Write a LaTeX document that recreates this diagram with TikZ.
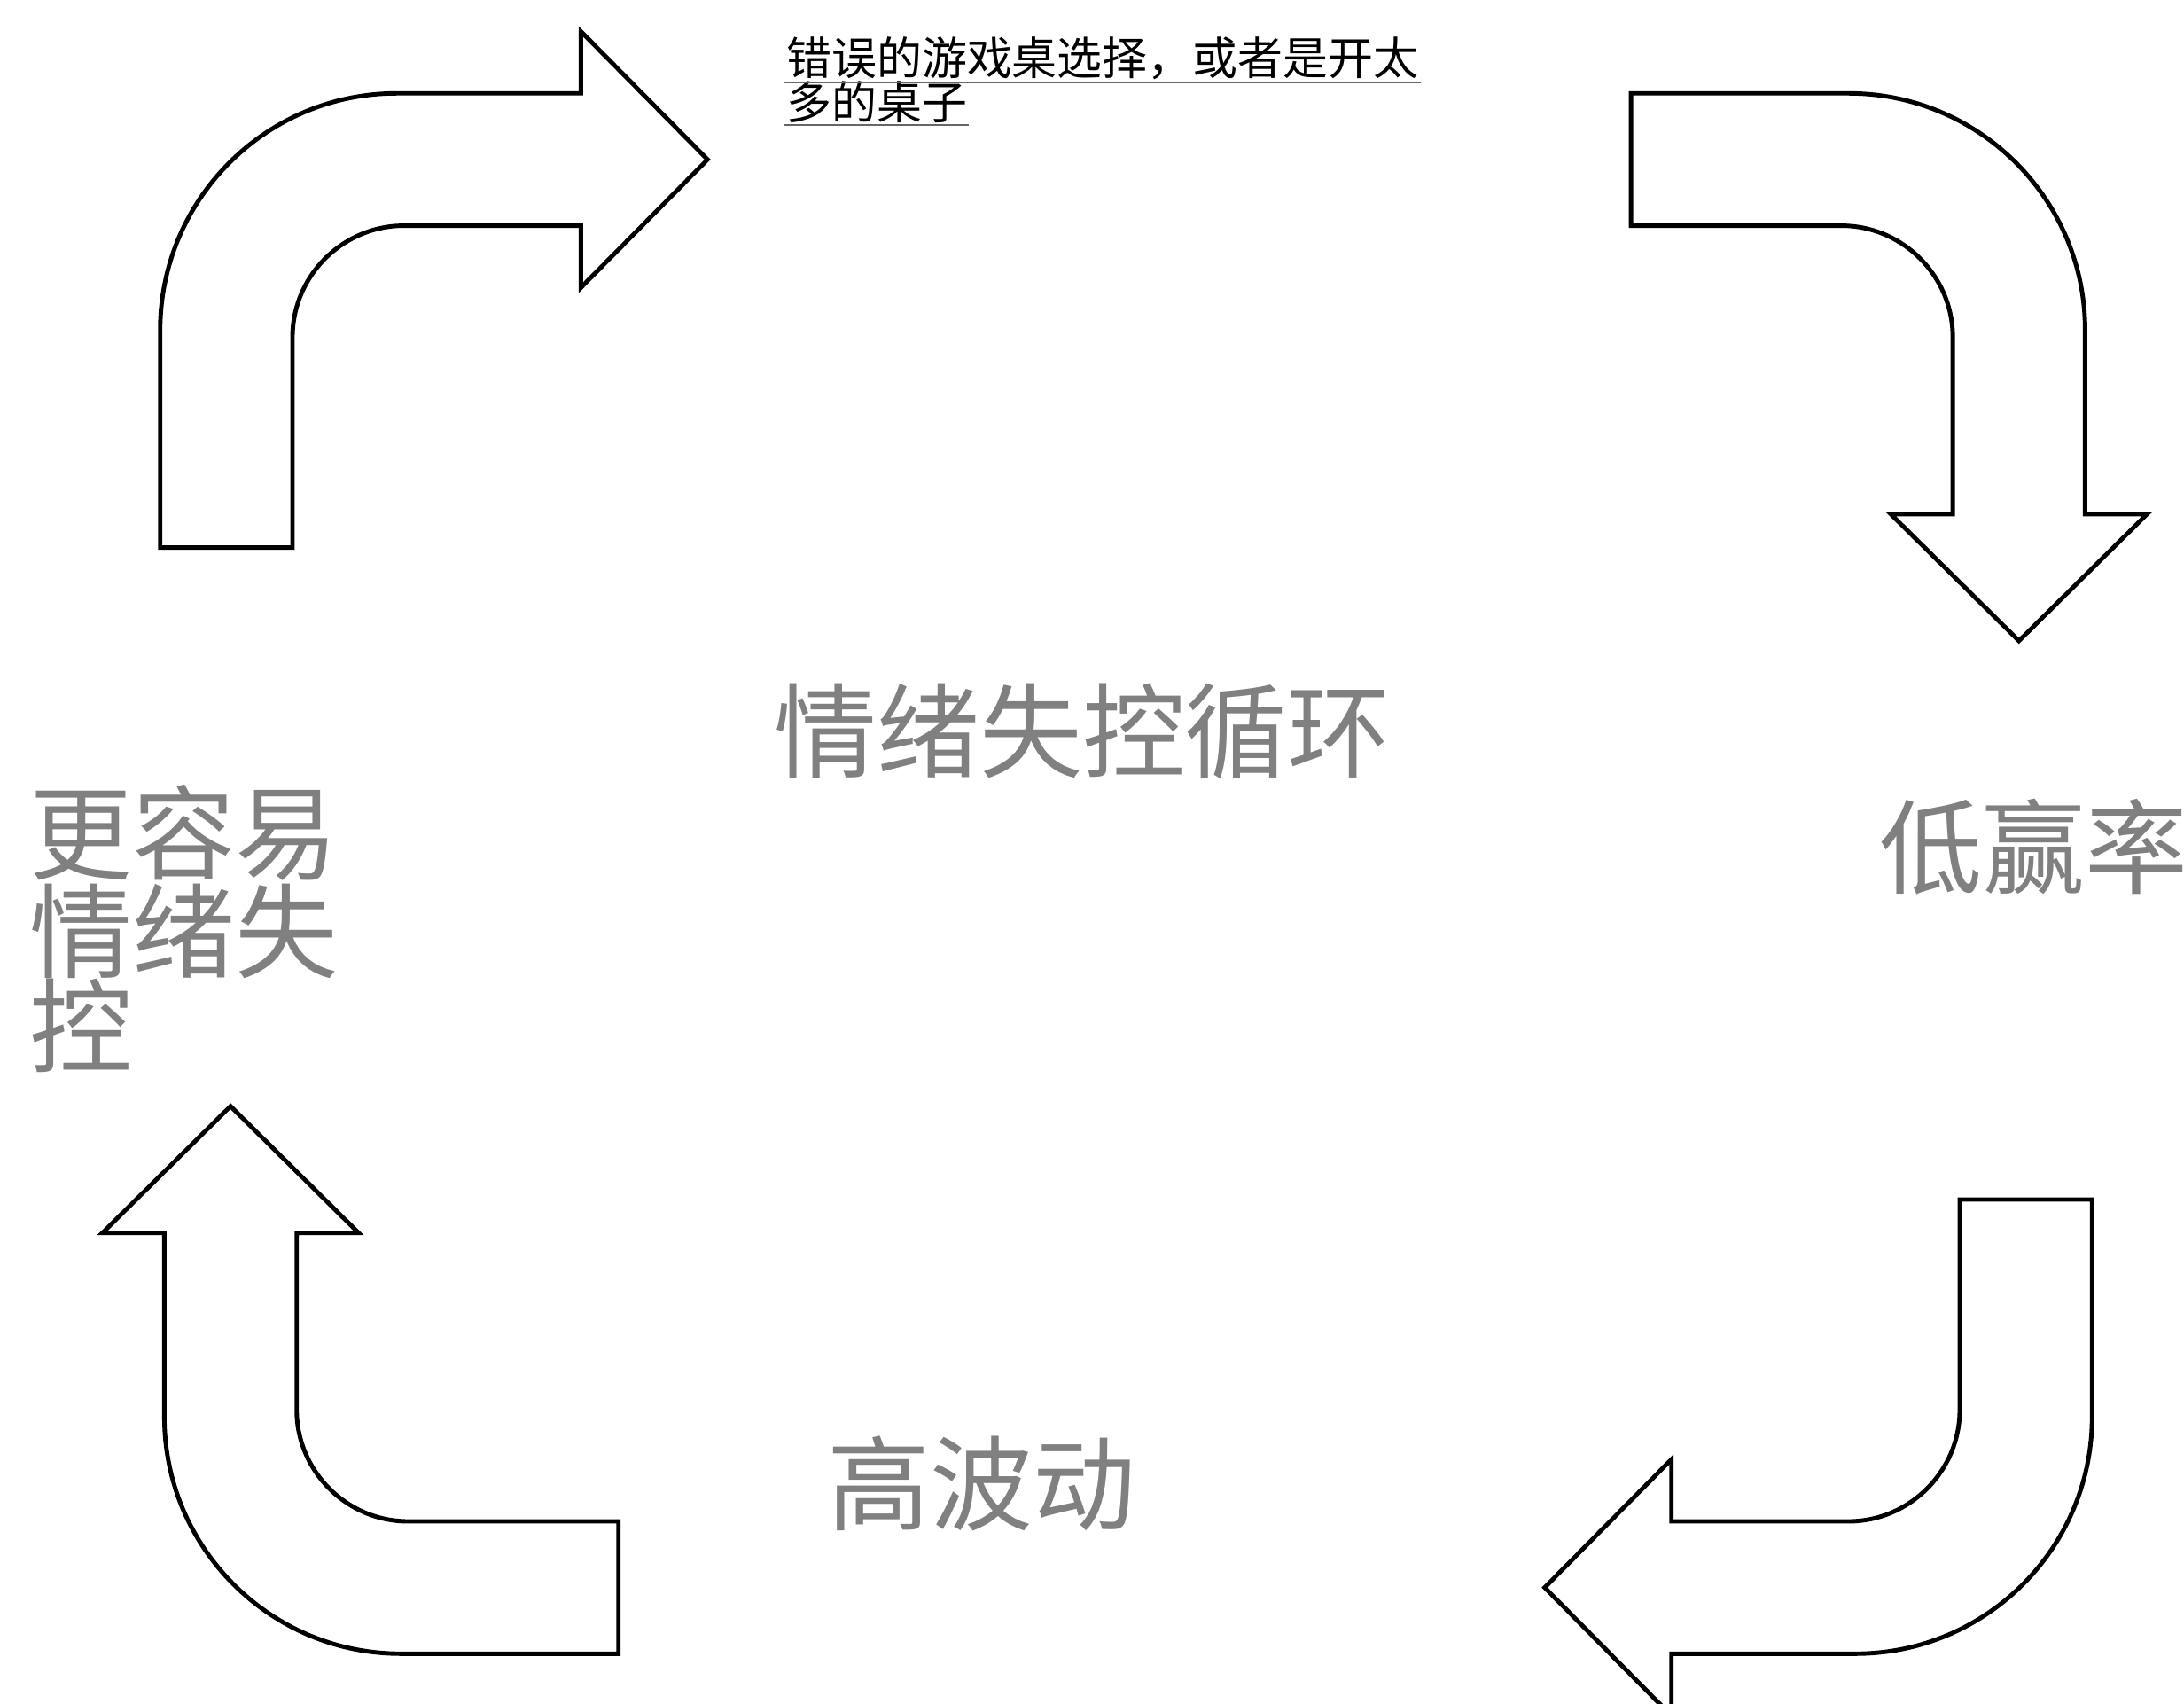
\documentclass[tikz,border=0pt]{standalone}
\usepackage{fontspec}
\setmainfont{Noto Sans CJK SC}
\usetikzlibrary{positioning}

\begin{document}
\begin{tikzpicture}[x=0.015714cm, y=-0.015714cm, line width=1.4pt,
    bigtext/.style={inner sep=0pt, text=black!50, font=\fontsize{33}{30.5}\selectfont},
    smalltext/.style={inner sep=0pt, font=\fontsize{14.5}{14}\selectfont},
    bent arrow/.pic={
        \draw (0,326) -- (0,170) .. controls (0,76) and (76,0) .. (170,0)
            -- (302,0) -- (302,-44.5) -- (393,47.5) -- (302,139.5) -- (302,95)
            -- (175,95) .. controls (131,95) and (95,131) .. (95,175)
            -- (95,326) -- cycle;
    }]
    \useasboundingbox (0,0) rectangle (1568,1223);

    % Arrows
    \pic at (115,67) {bent arrow};
    \pic[rotate=-90] at (1497,67) {bent arrow};
    \pic[rotate=180] at (1502,1187) {bent arrow};
    \pic[rotate=90] at (118,1187) {bent arrow};

    % Labels
    \node[smalltext, anchor=west] (choice1) at (563,42) {错误的游戏桌选择，或者是开太};
    \node[smalltext, below=-1pt of choice1.south west, anchor=north west] (choice2) {多的桌子};
    \draw[line width=0.6pt, black!60] (choice1.south west) -- (choice1.south east);
    \draw[line width=0.6pt, black!60] (choice2.south west) -- (choice2.south east);

    \node[bigtext] (loop) at (777,525) {情绪失控循环};
    \node[bigtext, align=left, anchor=north west] (easier) at (20,562) {更容易\\情绪失\\控};
    \node[bigtext] (lowwin) at (1460,608) {低赢率};
    \node[bigtext] (highvar) at (705,1065) {高波动};
\end{tikzpicture}
\end{document}
